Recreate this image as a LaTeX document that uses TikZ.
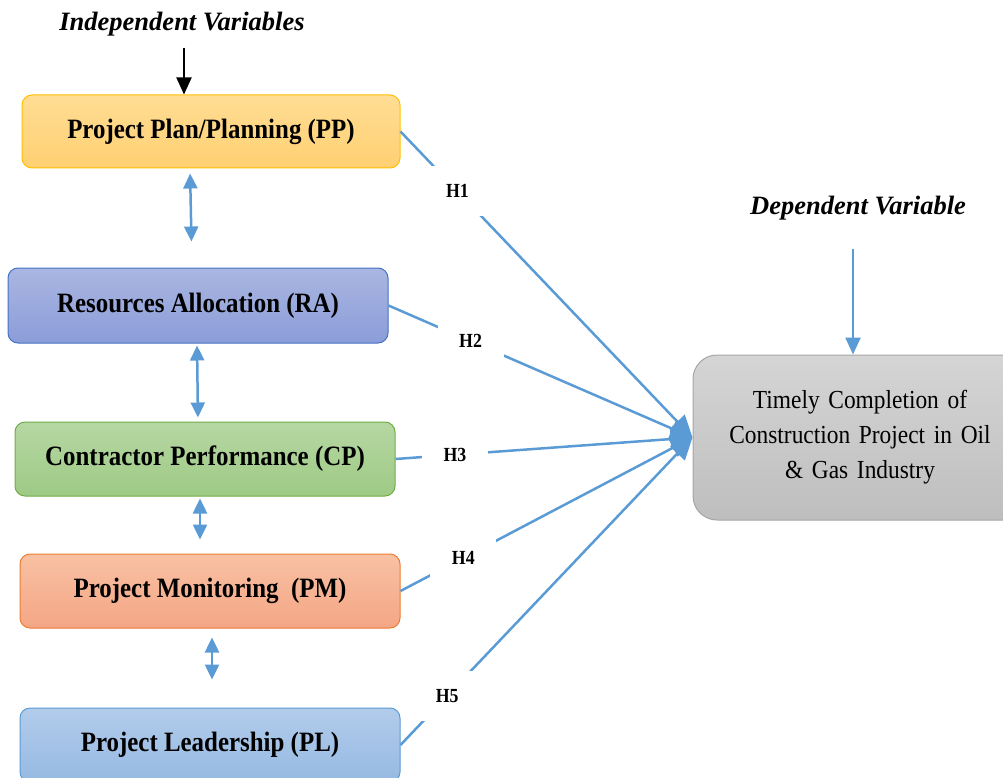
\documentclass[tikz,border=0pt]{standalone}
\usepackage{fontspec}
\setmainfont{Liberation Serif}
\newfontfamily\narrowserif{Liberation Serif}[FakeStretch=0.89]
\newfontfamily\tallserif{Liberation Serif}[FakeStretch=0.9]
\usetikzlibrary{arrows.meta}
\definecolor{linkblue}{HTML}{5B9BD5}
\definecolor{ppline}{HTML}{FFC000}\definecolor{pptop}{HTML}{FFDD94}\definecolor{ppbot}{HTML}{FFD072}
\definecolor{raline}{HTML}{4472C4}\definecolor{ratop}{HTML}{AAB6E2}\definecolor{rabot}{HTML}{8B9DD8}
\definecolor{cpline}{HTML}{70AD47}\definecolor{cptop}{HTML}{B6D7A3}\definecolor{cpbot}{HTML}{9ECA85}
\definecolor{pmline}{HTML}{ED7D31}\definecolor{pmtop}{HTML}{F8C1A3}\definecolor{pmbot}{HTML}{F4A685}
\definecolor{plline}{HTML}{5B9BD5}\definecolor{pltop}{HTML}{B2CCEB}\definecolor{plbot}{HTML}{96B9E2}
\definecolor{tcline}{HTML}{A6A6A6}\definecolor{tctop}{HTML}{D5D5D5}\definecolor{tcbot}{HTML}{BEBEBE}
\tikzset{
var/.style={
  rectangle, rounded corners=10pt, draw, line width=1pt,
  minimum width=380pt, minimum height=74pt,
  font=\narrowserif\bfseries\fontsize{28}{32}\selectfont
},
heading/.style={font=\bfseries\itshape\fontsize{26.5}{30}\selectfont},
dep/.style={
  rectangle, rounded corners=24pt, draw=tcline, line width=1pt,
  top color=tctop, bottom color=tcbot,
  minimum width=334pt, minimum height=165pt,
  text width=310pt, align=center,
  font=\tallserif\fontsize{26}{35}\selectfont
},
hyp/.style={draw=linkblue, line width=2.5pt,
  -{Triangle[width=20pt,length=22pt]}},
hlab/.style={fill=white, minimum width=66pt, minimum height=50pt,
  font=\narrowserif\bfseries\fontsize{20}{22}\selectfont},
both/.style={draw=linkblue, line width=2.5pt,
  {Triangle[width=14pt,length=15pt]}-{Triangle[width=14pt,length=15pt]}},
}
\begin{document}
\begin{tikzpicture}[x=1pt,y=-1pt]
\useasboundingbox (0,0) rectangle (1003,778);
% the variables
\node[var, draw=ppline, top color=pptop, bottom color=ppbot,
  minimum width=378pt, minimum height=73pt] (pp) at (211,131.5) {Project Plan/Planning (PP)};
\node[var, draw=raline, top color=ratop, bottom color=rabot,
  minimum height=75pt] (ra) at (198,305.5) {Resources Allocation (RA)};
\node[var, draw=cpline, top color=cptop, bottom color=cpbot] (cp) at (205,459) {Contractor Performance (CP)};
\node[var, draw=pmline, top color=pmtop, bottom color=pmbot] (pm) at (210,591) {Project Monitoring\ \ (PM)};
\node[var, draw=plline, top color=pltop, bottom color=plbot] (pl) at (210,745) {Project Leadership (PL)};
\node[dep] (tc) at (860,437.5) {Timely Completion of\\Construction Project in Oil\\\& Gas Industry};
% the headings
\node[heading] (iv) at (182,24) {Independent Variables};
\node[heading] (dv) at (858,208) {Dependent Variable};
\draw[line width=2pt, -{Triangle[width=15pt,length=17pt]}] ([xshift=2pt,yshift=-8pt]iv.south) -- (pp.north -| 184,0);
\draw[draw=linkblue, line width=2.5pt, -{Triangle[width=15pt,length=17pt]}] ([xshift=-5pt,yshift=-25pt]dv.south) -- (tc.north -| 853,0);
% the links between variables
\foreach \a/\b/\xa/\xb/\sa/\sb in {pp/ra/-21/-6/5/26, ra/cp/-1/-7/2/4, cp/pm/-5/-10/2/14, pm/pl/2/2/9/28}
{
  \draw[both, shorten <=\sa pt, shorten >=\sb pt]
    ([xshift=\xa pt]\a.south) -- ([xshift=\xb pt]\b.north);
}
% the hypotheses
\foreach \src/\lab/\p in {pp/H1/0.195, ra/H2/0.27, cp/H3/0.2, pm/H4/0.215, pl/H5/0.16}
{
  \draw[hyp] (\src.east) -- node[hlab, pos=\p] {\lab} (tc.west);
}
\end{tikzpicture}
\end{document}
